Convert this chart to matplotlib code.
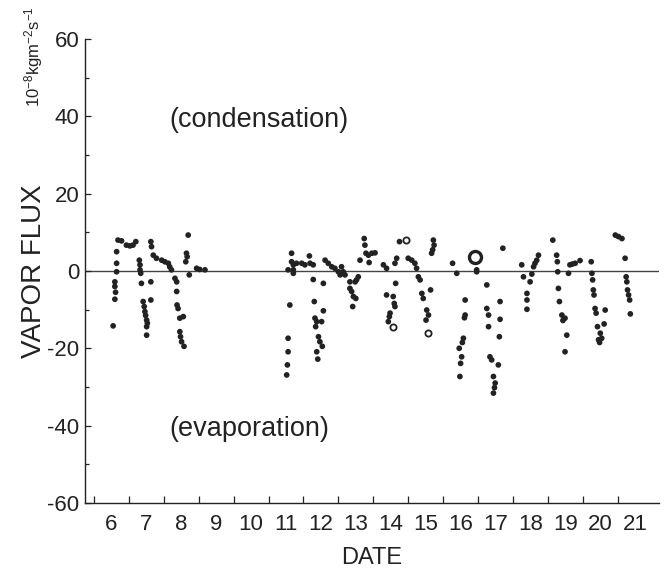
import matplotlib
matplotlib.use("Agg")
import matplotlib.pyplot as plt
import numpy as np

plt.rcParams['font.family'] = ['Liberation Sans', 'DejaVu Sans']
plt.rcParams['axes.unicode_minus'] = False
plt.rcParams['mathtext.fontset'] = 'custom'
plt.rcParams['mathtext.rm'] = 'Liberation Sans'
plt.rcParams['mathtext.it'] = 'Liberation Sans'
plt.rcParams['mathtext.bf'] = 'Liberation Sans:bold'

# filled observations: (date, vapor flux in 1e-8 kg m-2 s-1)
date = [6.69, 6.79, 6.65, 6.65, 6.65, 6.60, 6.60, 6.62, 6.60, 6.55,
        6.93, 7.03, 7.12, 7.20,
        7.30, 7.32, 7.32, 7.34, 7.36, 7.41, 7.44, 7.46, 7.48, 7.51, 7.53, 7.51, 7.51,
        7.63, 7.65, 7.63, 7.63,
        7.70, 7.79, 7.94, 8.03, 8.13, 8.17, 8.22,
        8.32, 8.37, 8.37, 8.38, 8.41, 8.46, 8.56, 8.46, 8.48, 8.51, 8.58,
        8.70, 8.65, 8.67, 8.63, 8.73, 8.94, 9.03, 9.18,
        11.56, 11.66, 11.66, 11.71, 11.71, 11.71, 11.61, 11.56, 11.56, 11.54, 11.52,
        11.80, 11.95, 12.04, 12.19, 12.17, 12.28,
        12.28, 12.31, 12.33, 12.38, 12.52, 12.35, 12.43, 12.47, 12.54, 12.38, 12.41, 12.57, 12.57,
        12.62, 12.71, 12.81, 12.90, 13.00, 13.05, 13.14, 13.19, 13.09,
        13.33, 13.48, 13.57, 13.52, 13.33, 13.38, 13.43, 13.50, 13.41, 13.62,
        13.74, 13.76, 13.79, 13.86, 13.96, 14.05, 13.88,
        14.29, 14.38, 14.64, 14.38, 14.57, 14.60, 14.62, 14.48, 14.46, 14.43,
        14.62, 14.67, 14.75,
        15.00, 15.10, 15.19, 15.24, 15.29, 15.34, 15.39, 15.43, 15.53, 15.58, 15.51, 15.64,
        15.67, 15.72, 15.74, 15.70,
        16.27, 16.39, 16.63, 16.63, 16.58, 16.53, 16.46, 16.50, 16.48, 16.61, 16.55,
        16.96, 16.96,
        17.25, 17.25, 17.30, 17.30, 17.34, 17.39, 17.58, 17.44, 17.49, 17.44, 17.47,
        17.63, 17.63, 17.61, 17.71,
        18.25, 18.30, 18.40, 18.40, 18.40, 18.49, 18.59, 18.68, 18.73, 18.54, 18.63,
        19.14, 19.25, 19.27, 19.28, 19.30, 19.33, 19.40, 19.49, 19.54, 19.49, 19.43,
        19.59, 19.63, 19.70, 19.78, 19.92,
        20.24, 20.26, 20.28, 20.30, 20.32, 20.35, 20.38, 20.42, 20.50, 20.54, 20.45,
        20.64, 20.61, 20.48,
        20.93, 21.02, 21.12, 21.21, 21.24, 21.26, 21.28, 21.31, 21.34, 21.36]
flux = [8.0, 7.8, 5.0, 2.0, -0.2, -2.8, -4.0, -5.5, -7.3, -14.2,
        6.7, 6.5, 6.7, 7.6,
        2.8, 1.6, 0.3, -0.6, -3.2, -7.9, -9.2, -10.5, -11.5, -12.7, -13.5, -14.4, -16.6,
        7.6, 6.3, -2.8, -7.5,
        4.1, 3.3, 2.8, 2.4, 2.0, 1.1, 0.3,
        -1.9, -2.8, -5.3, -8.8, -9.7, -12.2, -11.8, -15.7, -17.0, -18.3, -19.5,
        9.3, 4.6, 3.7, 2.4, -1.0, 0.7, 0.4, 0.3,
        0.3, 4.6, 2.4, 1.6, 0.3, -0.6, -8.8, -17.4, -20.9, -24.3, -26.9,
        2.0, 2.0, 1.6, 2.0, 3.9, 1.6,
        -2.2, -7.9, -12.2, -13.1, -13.1, -14.4, -17.0, -18.3, -19.5, -20.9, -22.8, -3.2, -10.3,
        2.8, 2.0, 1.1, 0.7, -0.2, -1.0, -0.2, -1.0, 1.1,
        -2.8, -2.8, -1.5, -2.3, -4.5, -5.3, -6.6, -7.1, -9.2, 2.8,
        8.4, 6.7, 4.6, 4.1, 4.6, 4.7, 2.2,
        1.6, 0.7, -3.2, -6.2, -6.6, -8.4, -9.2, -10.9, -11.8, -13.1,
        2.0, 3.3, 7.6,
        3.3, 2.8, 2.0, 0.7, -1.5, -2.3, -5.8, -7.1, -10.1, -11.4, -12.7, -4.9,
        4.6, 8.0, 6.7, 5.5,
        2.0, -0.6, -7.5, -11.4, -17.4, -22.2, -20.0, -23.9, -27.3, -12.1, -18.5,
        -0.2, 0.3,
        -3.6, -9.7, -11.4, -14.4, -22.2, -23.0, -24.3, -27.3, -29.0, -31.6, -30.2,
        -7.9, -12.5, -17.0, 5.9,
        1.6, -1.5, -5.8, -7.5, -9.9, -2.8, 1.1, 2.8, 4.1, -0.8, 2.0,
        8.0, 4.1, 2.4, -0.2, -4.5, -7.9, -11.4, -12.2, -16.6, -20.9, -12.8,
        -0.6, 1.6, 1.8, 2.0, 2.7,
        2.4, -0.6, -2.3, -4.9, -6.2, -9.7, -10.9, -14.4, -16.1, -17.4, -17.8,
        -10.1, -13.7, -18.5,
        9.3, 8.9, 8.4, 3.3, -1.5, -2.8, -4.9, -6.2, -7.5, -11.1]

# open-circle observations
open_date = [14.94, 14.56, 15.56]
open_flux = [8.0, -14.4, -16.1]
big_open_date = [16.91]
big_open_flux = [3.5]

day_ticks = list(range(6, 22))
day_labels = [str(d) for d in range(6, 22)]
y_ticks = [-60, -40, -20, 0, 20, 40, 60]
y_minor = [-50, -30, -10, 10, 30, 50]

fig = plt.figure(figsize=(6.68, 5.76), dpi=100)
ax = fig.add_axes([0.127, 0.127, 0.860, 0.805])

ink = '#222222'
ax.axhline(0, color='#444444', lw=1.0, zorder=1)
ax.scatter(date, flux, s=17, color=ink, edgecolors='none', zorder=3)
ax.scatter(open_date, open_flux, s=20, facecolors='white', edgecolors=ink, linewidths=1.3, zorder=3)
ax.scatter(big_open_date, big_open_flux, s=75, facecolors='white', edgecolors=ink, linewidths=2.4, zorder=3)

ax.set_xlim(5.74, 22.19)
ax.set_ylim(-60, 60)

ax.set_xticks(day_ticks)
ax.set_xticklabels([])
ax.set_xticks([d + 0.5 for d in day_ticks], minor=True)
ax.set_xticklabels(day_labels, minor=True)
ax.tick_params(axis='x', which='major', direction='in', length=5, width=0.9, color=ink)
ax.tick_params(axis='x', which='minor', length=0, pad=8, labelsize=16, labelcolor=ink)

ax.set_yticks(y_ticks)
ax.set_yticklabels([str(v) for v in y_ticks])
ax.set_yticks(y_minor, minor=True)
ax.tick_params(axis='y', which='major', direction='in', length=4, width=0.9, labelsize=16,
               labelcolor=ink, color=ink, pad=4)
ax.tick_params(axis='y', which='minor', direction='in', length=3, width=0.9, color=ink)

for side in ['top', 'right']:
    ax.spines[side].set_visible(False)
for side in ['left', 'bottom']:
    ax.spines[side].set_linewidth(1.0)
    ax.spines[side].set_color(ink)

ax.set_xlabel('DATE', fontsize=17, color=ink, labelpad=9)
ax.set_ylabel('VAPOR FLUX', fontsize=20, color=ink, labelpad=0)

ax.text(8.17, 39, '(condensation)', fontsize=19.5, color=ink, ha='left', va='center')
ax.text(8.17, -41, '(evaporation)', fontsize=19.5, color=ink, ha='left', va='center')

fig.text(0.050, 0.902, r'10$^{-8}$kgm$^{-2}$s$^{-1}$', rotation=90, fontsize=12,
         color=ink, ha='center', va='center')

fig.savefig('out.png', dpi=100, facecolor='white')
